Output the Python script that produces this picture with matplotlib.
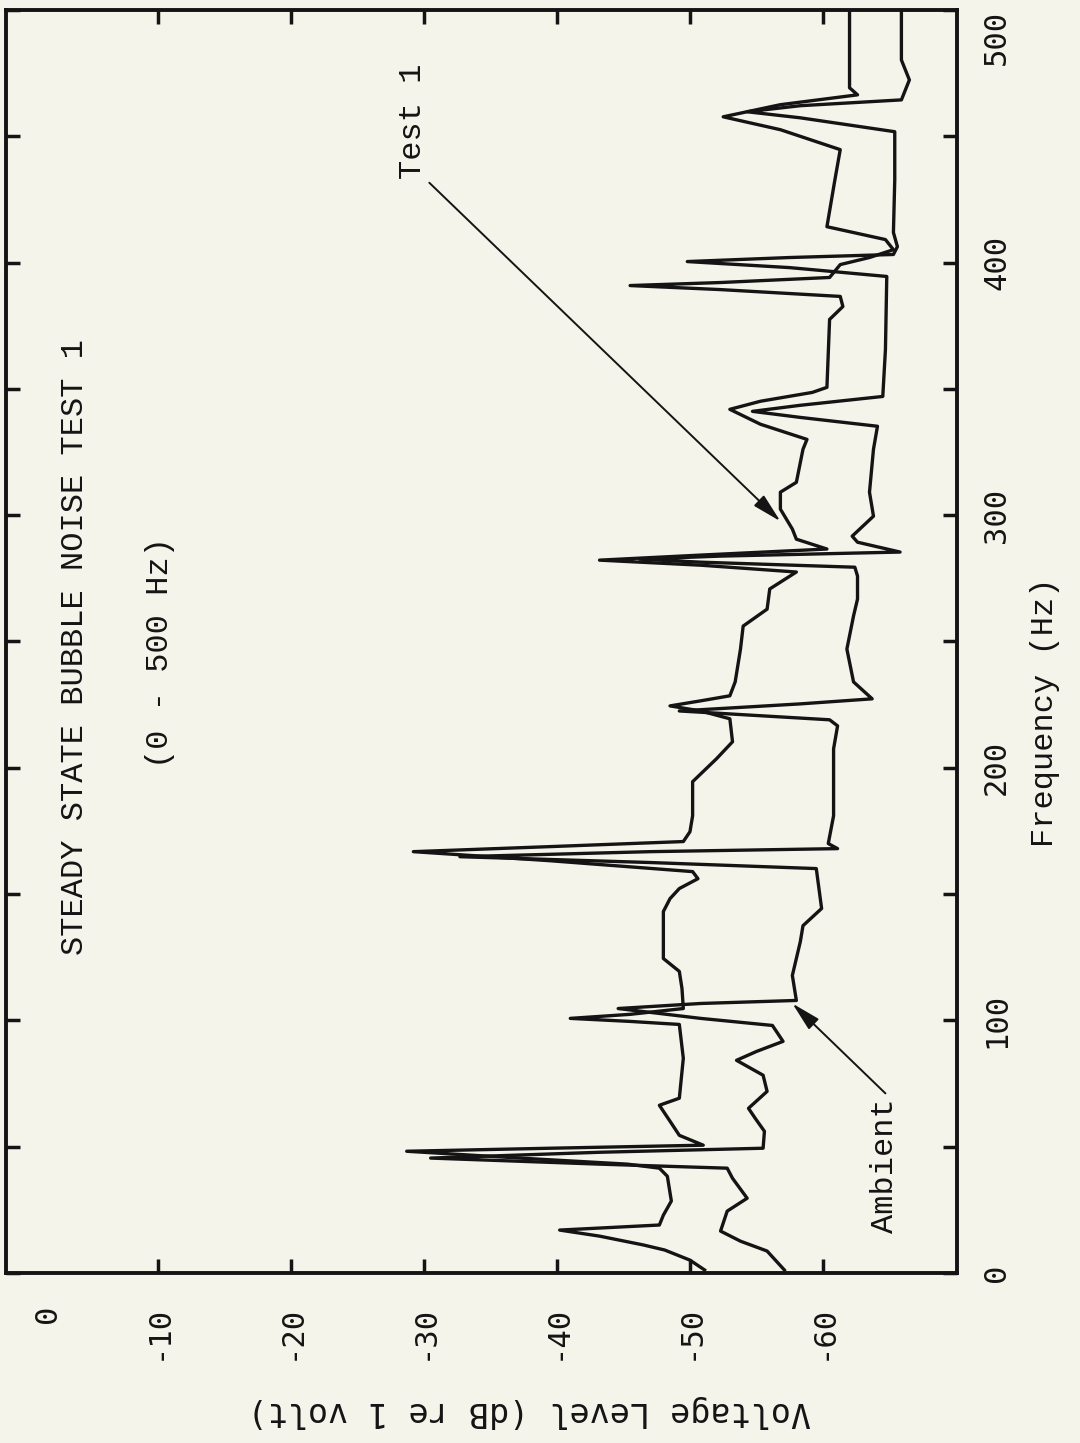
import matplotlib.pyplot as plt
from matplotlib.transforms import ScaledTranslation

# Spectrum traces (frequency in Hz, level in dB re 1 volt)
test_hz = [1.2, 5.1, 9.1, 11.1, 14.6, 17.0, 18.2, 19.0, 22.9, 28.5, 38.3, 41.5, 43.1, 45.5,
           48.2, 49.4, 50.6, 54.5, 59.3, 66.4, 69.2, 85.0, 98.4, 99.6, 100.8, 102.4, 104.7,
           112.6, 119.4, 124.5, 143.1, 148.2, 152.2, 156.1, 158.9, 163.2, 166.8, 168.8,
           170.8, 174.7, 181.0, 194.5, 203.6, 210.3, 219.4, 222.5, 224.5, 226.5, 228.5,
           234.0, 247.0, 256.1, 262.8, 270.8, 277.5, 280.2, 282.2, 284.2, 286.6, 290.5,
           294.5, 302.4, 309.1, 313.0, 326.1, 330.0, 336.0, 341.9, 345.1, 348.6, 350.6,
           377.5, 382.6, 386.6, 389.3, 390.9, 392.1, 394.1, 399.2, 402.0, 405.1, 409.1,
           414.2, 432.8, 444.7, 452.6, 457.7, 462.5, 466.4, 469.2, 500.0]
test_db = [-51.1, -50.0, -48.1, -46.5, -43.2, -40.2, -44.7, -47.7, -48.0, -48.6, -48.3, -47.7,
           -45.3, -37.2, -28.7, -39.5, -51.0, -49.2, -48.6, -47.7, -49.2, -49.5, -49.2,
           -45.5, -41.0, -45.5, -49.5, -49.4, -49.2, -48.0, -48.0, -48.5, -49.2, -50.6,
           -50.2, -39.5, -29.2, -39.5, -49.5, -50.0, -50.2, -50.2, -52.0, -53.2, -53.0,
           -50.8, -48.5, -50.8, -53.0, -53.4, -53.8, -54.0, -55.8, -56.0, -58.0, -50.8,
           -43.2, -50.8, -60.3, -58.0, -57.7, -56.8, -56.8, -58.0, -58.5, -58.8, -55.3,
           -53.0, -55.3, -59.2, -60.3, -60.5, -61.5, -61.3, -52.3, -45.5, -52.3, -60.5,
           -61.3, -63.5, -65.3, -64.7, -60.3, -60.9, -61.3, -56.8, -52.5, -56.8, -62.6,
           -62.0, -62.0]

amb_hz = [1.2, 8.7, 12.6, 16.6, 24.5, 29.6, 37.5, 41.5, 43.1, 45.5, 47.8, 49.4, 56.1, 61.3,
          65.2, 71.9, 78.3, 84.2, 87.7, 91.7, 98.0, 100.8, 104.7, 106.7, 107.9, 117.8,
          131.2, 137.5, 144.3, 156.1, 160.1, 162.5, 164.8, 166.8, 168.0, 170.0, 181.0,
          207.5, 216.6, 219.0, 222.5, 225.3, 227.3, 234.0, 247.0, 260.1, 266.8, 275.9,
          279.4, 281.4, 282.6, 283.8, 285.4, 289.3, 291.7, 299.6, 309.1, 326.1, 335.2,
          338.7, 341.1, 343.5, 347.0, 365.6, 394.5, 398.0, 400.4, 402.0, 403.2, 406.3,
          411.9, 432.8, 451.8, 457.3, 459.7, 462.1, 464.4, 472.3, 480.2, 500.0]
amb_db = [-57.1, -55.8, -53.8, -52.3, -52.8, -54.3, -53.2, -52.8, -43.2, -30.5, -43.2, -55.5,
          -55.6, -54.9, -54.4, -55.8, -55.5, -53.5, -55.0, -57.0, -56.2, -50.8, -44.6,
          -50.8, -58.0, -57.7, -58.3, -58.5, -59.9, -59.6, -59.5, -47.0, -32.7, -47.0,
          -61.1, -60.4, -60.8, -60.8, -61.1, -60.5, -49.2, -58.3, -63.7, -62.3, -61.8,
          -62.3, -62.6, -62.6, -62.4, -50.8, -46.2, -52.3, -65.8, -62.6, -62.2, -63.8,
          -63.5, -63.8, -64.1, -58.3, -54.7, -58.3, -64.5, -64.7, -64.8, -57.5, -49.8,
          -57.5, -65.3, -65.6, -65.3, -65.4, -65.4, -58.3, -54.3, -58.3, -65.9, -66.5,
          -65.9, -65.9]

db_ticks = [0, -10, -20, -30, -40, -50, -60]
freq_ticks = [0, 100, 200, 300, 400, 500]
freq_minor = [50, 150, 250, 350, 450]

paper = '#f4f4ea'
ink = '#141414'
typewriter = 'Liberation Mono'

plt.rcParams['font.family'] = ['DejaVu Sans Mono']

fig = plt.figure(figsize=(10.8, 14.43), dpi=100, facecolor=paper)
ax = fig.add_axes([0.0056, 0.1178, 0.8805, 0.8753], facecolor=paper)

# chart is drawn turned on its side: level runs across, frequency runs up
ax.plot(test_db, test_hz, color=ink, lw=2.4, solid_joinstyle='round')
ax.plot(amb_db, amb_hz, color=ink, lw=2.4, solid_joinstyle='round')

ax.set_xlim(1.43, -70.08)
ax.set_ylim(0, 500)

for side in ax.spines.values():
    side.set_linewidth(2.8)
    side.set_color(ink)

ax.set_xticks(db_ticks)
ax.set_xticklabels([str(v) for v in db_ticks])
ax.tick_params(axis='x', direction='in', top=True, bottom=True, length=10, width=2.5,
               pad=23, labelsize=22, labelrotation=90, colors=ink)
zero_tick = ax.xaxis.get_major_ticks()[0]
zero_tick.tick1line.set_visible(False)
zero_tick.tick2line.set_visible(False)
# the typed "0" sits a little right of the frame corner
zero_lbl = zero_tick.label1
zero_lbl.set_transform(zero_lbl.get_transform() + ScaledTranslation(0.22, 0, fig.dpi_scale_trans))

ax.set_yticks(freq_ticks)
ax.set_yticks(freq_minor, minor=True)
ax.set_yticklabels([str(v) for v in freq_ticks])
ax.tick_params(axis='y', which='both', direction='in', left=True, right=True,
               labelleft=False, labelright=True, length=10, width=2.5, colors=ink)
ax.tick_params(axis='y', which='major', pad=18, labelsize=22, labelrotation=90)
for lbl in ax.get_yticklabels():
    lbl.set_va('center')
ax.get_yticklabels()[-1].set_va('top')

ax.set_ylabel('Frequency (Hz)', fontfamily=typewriter, fontsize=23, rotation=90, color=ink)
ax.yaxis.set_label_position('right')
ax.yaxis.set_label_coords(1.077, 0.444)

ax.set_xlabel('Voltage Level (dB re 1 volt)', fontsize=24, rotation=180, color=ink)
ax.xaxis.set_label_coords(0.55, -0.0966)

ax.text(0.0726, 0.496, 'STEADY STATE BUBBLE NOISE TEST 1', transform=ax.transAxes,
        rotation=90, ha='center', va='center', fontfamily=typewriter, fontsize=23, color=ink)
ax.text(0.162, 0.491, '(0 - 500 Hz)', transform=ax.transAxes,
        rotation=90, ha='center', va='center', fontfamily=typewriter, fontsize=23, color=ink)

arrow = dict(arrowstyle='-|>,head_length=0.9,head_width=0.22', color=ink, lw=1.4,
             mutation_scale=20, shrinkA=0, shrinkB=0)
ax.text(-29.2, 456, 'Test 1', rotation=90, ha='center', va='center',
        fontfamily=typewriter, fontsize=23, color=ink)
ax.annotate('', xy=(-56.8, 297.6), xytext=(-30.4, 431.6), arrowprops=arrow)
ax.text(-64.7, 42.7, 'Ambient', rotation=90, ha='center', va='center',
        fontfamily=typewriter, fontsize=23, color=ink)
ax.annotate('', xy=(-57.7, 106.7), xytext=(-64.7, 71.1), arrowprops=arrow)

fig.savefig('out.png', dpi=100, facecolor=paper)
